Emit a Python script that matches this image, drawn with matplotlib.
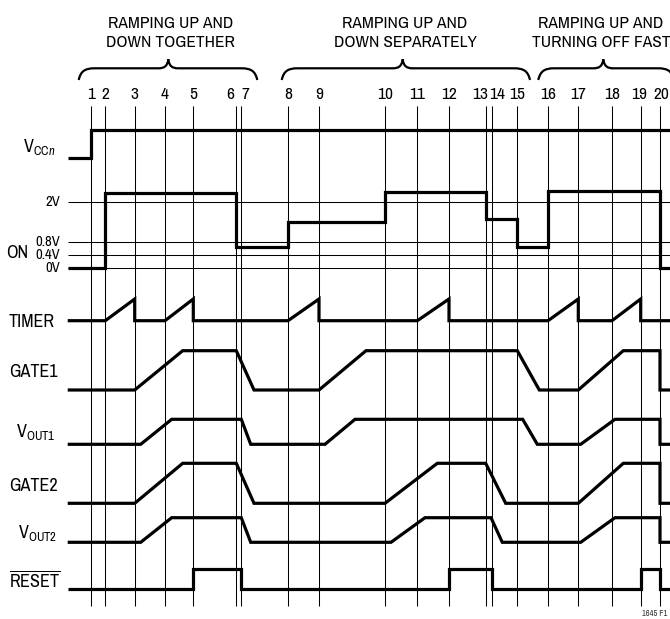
import numpy as np
import matplotlib.pyplot as plt
from matplotlib.path import Path
from matplotlib.patches import PathPatch

plt.rcParams['font.family'] = ['Archivo Narrow', 'Liberation Sans', 'DejaVu Sans']
plt.rcParams['mathtext.fontset'] = 'custom'
plt.rcParams['mathtext.rm'] = 'Archivo Narrow'
plt.rcParams['mathtext.it'] = 'Archivo Narrow:italic'

# event markers 1..20 (time units)
events = [90.7, 105.3, 134.7, 165, 193.3, 236.3, 241.3, 288, 319, 385,
          417.3, 449, 485.7, 491.7, 517.3, 548, 578.3, 612, 640.7, 660]
event_labels = [str(i) for i in range(1, 21)]
t0, t1 = 67.7, 672

groups = [('RAMPING UP AND\nDOWN TOGETHER', 78.7, 257.3, 168.3),
          ('RAMPING UP AND\nDOWN SEPARATELY', 281.7, 530, 402.7),
          ('RAMPING UP AND\nTURNING OFF FAST', 538.3, 674, 603.3)]

# waveforms: (time, level 0..1)
vcc_t = [t0, 90.7, 90.7, t1]
vcc_v = [0, 0, 1, 1]

on_t = [t0, 105.3, 105.3, 236.3, 236.3, 288, 288, 385, 385, 485.7, 485.7,
        517.3, 517.3, 548, 548, 660, 660, t1]
on_v = [0, 0, 2.25, 2.25, 0.65, 0.65, 1.38, 1.38, 2.28, 2.28, 1.47,
        1.47, 0.65, 0.65, 2.32, 2.32, 0, 0]  # volts
on_ref = [0, 0.4, 0.8, 2]
on_ref_labels = ['0V', '0.4V', '0.8V', '2V']

timer_t = [t0, 105.3, 134.7, 134.7, 165, 193.3, 193.3, 288, 319, 319, 417.3,
           449, 449, 548, 578.3, 578.3, 612, 640.7, 640.7, t1]
timer_v = [0, 0, 1, 0, 0, 1, 0, 0, 1, 0, 0, 1, 0, 0, 1, 0, 0, 1, 0, 0]

ramp_v = [0, 0, 1, 1, 0, 0, 1, 1, 0, 0, 1, 1, 0, 0]
gate1_t = [t0, 134.7, 182.7, 236.3, 254, 319, 366, 517.3, 539.3, 578.3, 623.3, 660, 660, t1]
vout1_t = [t0, 140.7, 171.7, 241.3, 250.7, 325, 355, 522.7, 537.3, 580.7, 615, 660, 660, t1]
gate2_t = [t0, 134.7, 182.7, 236.3, 254, 385, 437.3, 485.7, 505.7, 578.3, 623.3, 660, 660, t1]
vout2_t = [t0, 140.7, 171.7, 241.3, 250.7, 391, 425, 491, 502.3, 580.7, 615, 660, 660, t1]

reset_t = [t0, 193.3, 193.3, 241.3, 241.3, 449, 449, 491.7, 491.7, 640.7, 640.7, 660, 660, t1]
reset_v = [0, 0, 1, 1, 0, 0, 1, 1, 0, 0, 1, 1, 0, 0]

fig = plt.figure(figsize=(6.70, 6.19), dpi=100)
ax = fig.add_axes([0, 0, 1, 1])
ax.set_xlim(0, 670)
ax.set_ylim(619, 0)
ax.axis('off')

lw = 2.3
fs = 13

# event lines + numbers
ax.vlines(events, 106, 606, color='black', lw=0.75)
nudge = {6: -6, 7: 4, 13: -6, 14: 5, 19: -2, 20: 1}
for i, (x, s) in enumerate(zip(events, event_labels)):
    ax.text(x + nudge.get(i + 1, 0), 99.3, s, ha='center', va='baseline', fontsize=12.5)

# braces + group titles
def brace(x0, x1, xm, yh=68.3, yend=80, ytip=59.3):
    verts = [(x0, yend), (x0 + 2, yh + 3), (x0 + 6, yh), (x0 + 16, yh),
             (xm - 10, yh), (xm - 4, yh), (xm - 1, yh - 2), (xm, ytip),
             (xm + 1, yh - 2), (xm + 4, yh), (xm + 10, yh),
             (x1 - 16, yh), (x1 - 6, yh), (x1 - 2, yh + 3), (x1, yend)]
    codes = [Path.MOVETO, Path.CURVE4, Path.CURVE4, Path.CURVE4,
             Path.LINETO, Path.CURVE4, Path.CURVE4, Path.CURVE4,
             Path.CURVE4, Path.CURVE4, Path.CURVE4,
             Path.LINETO, Path.CURVE4, Path.CURVE4, Path.CURVE4]
    ax.add_patch(PathPatch(Path(verts, codes), fill=False, lw=1.6, color='black'))

title_x = [170.5, 405, 601]
for (title, x0, x1, xm), tx in zip(groups, title_x):
    brace(x0, x1, xm)
    top, bottom = title.split('\n')
    ax.text(tx, 28.3, top, ha='center', va='baseline', fontsize=12.5)
    ax.text(tx, 47.3, bottom, ha='center', va='baseline', fontsize=12.5)

def trace(t, v, base, amp):
    ax.plot(t, base - amp * np.array(v), color='black', lw=lw,
            solid_joinstyle='miter', solid_capstyle='butt')

# VCC
trace(vcc_t, vcc_v, 158.3, 28.3)
ax.text(55, 151.7, r'V$_{\mathrm{CC}\mathit{n}}$', ha='right', va='baseline', fontsize=fs)

# ON with reference levels
on0, px_per_v = 268.3, 33.3
ax.hlines([on0 - px_per_v * r for r in on_ref], t0, 670, color='black', lw=0.75)
trace(on_t, on_v, on0, px_per_v)
for r, s in zip(on_ref, on_ref_labels):
    ax.text(60, on0 - px_per_v * r, s, ha='right', va='center', fontsize=10.5)
ax.text(6.5, 258.3, 'ON', ha='left', va='baseline', fontsize=fs)

# TIMER
trace(timer_t, timer_v, 320.7, 21.7)
ax.text(8.5, 327.3, 'TIMER', ha='left', va='baseline', fontsize=fs)

# gates and outputs
trace(gate1_t, ramp_v, 390, 39.3)
ax.text(9.3, 376.7, 'GATE1', ha='left', va='baseline', fontsize=fs)
trace(vout1_t, ramp_v, 444.3, 25)
ax.text(56, 436.7, r'V$_{\mathrm{OUT1}}$', ha='right', va='baseline', fontsize=fs)
trace(gate2_t, ramp_v, 503.3, 40)
ax.text(9.3, 490.7, 'GATE2', ha='left', va='baseline', fontsize=fs)
trace(vout2_t, ramp_v, 542.3, 24.6)
ax.text(57, 538.3, r'V$_{\mathrm{OUT2}}$', ha='right', va='baseline', fontsize=fs)

# RESET
trace(reset_t, reset_v, 589.3, 20.3)
ax.text(9.3, 587.3, r'$\overline{\mathrm{RESET}}$', ha='left', va='baseline', fontsize=fs)

ax.text(667, 616, '1645 F1', ha='right', va='baseline', fontsize=6, color='#333333')

fig.savefig('out.png', dpi=100)
